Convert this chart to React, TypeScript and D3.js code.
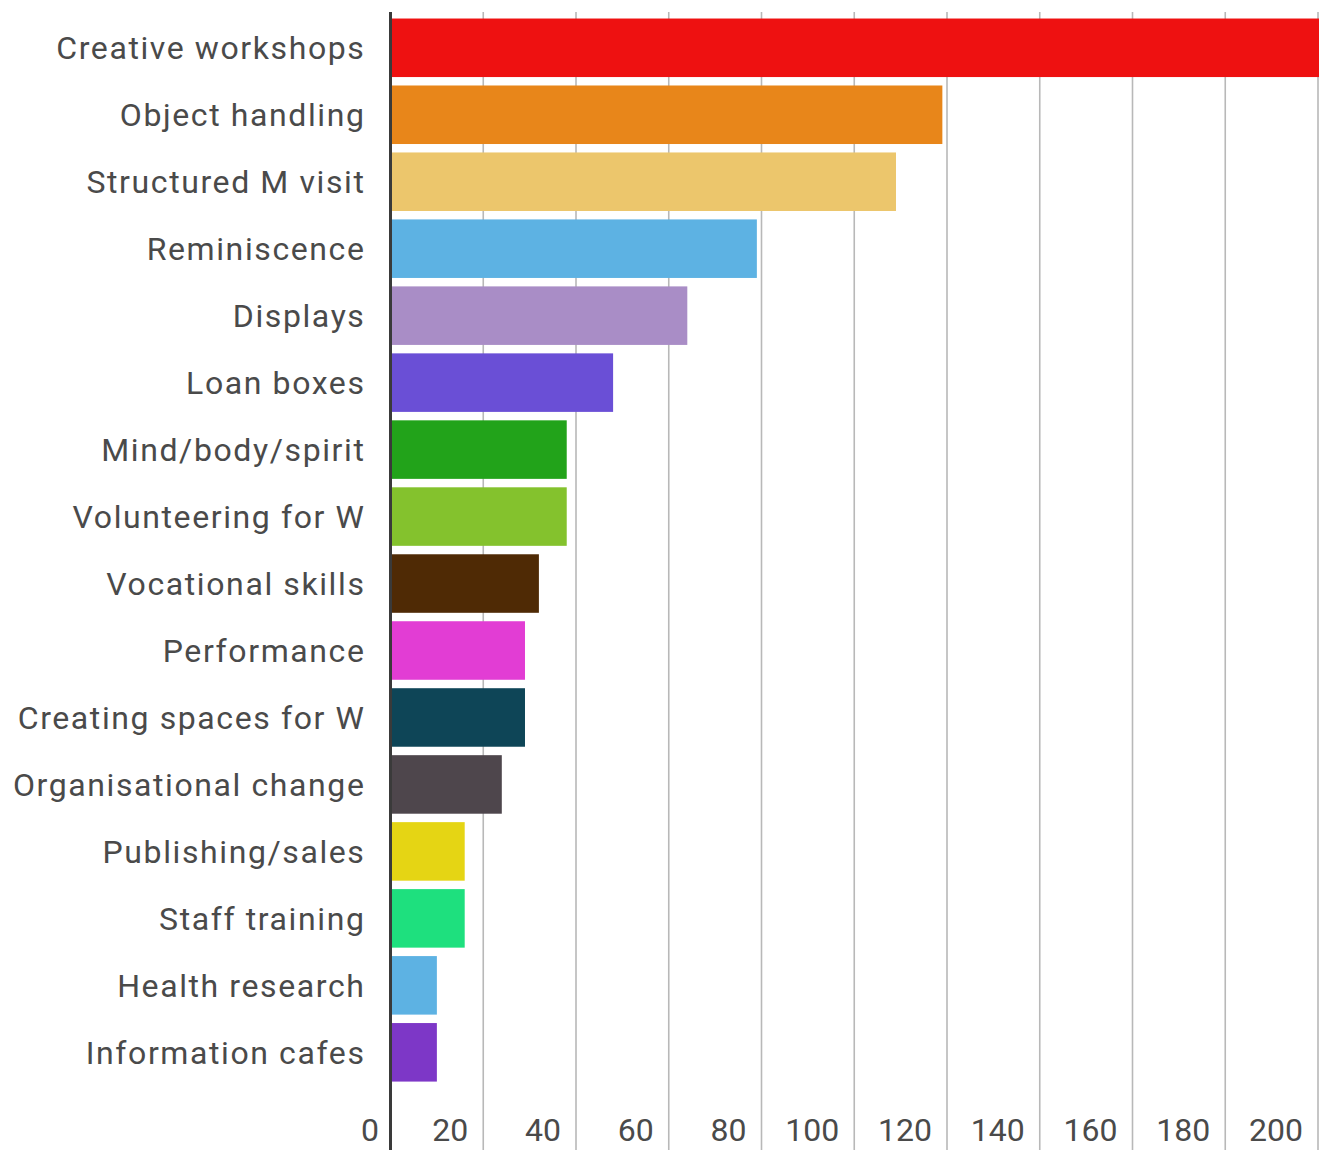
import React from "react";
import * as d3 from "d3";

const categories = [
  "Creative workshops",
  "Object handling",
  "Structured M visit",
  "Reminiscence",
  "Displays",
  "Loan boxes",
  "Mind/body/spirit",
  "Volunteering for W",
  "Vocational skills",
  "Performance",
  "Creating spaces for W",
  "Organisational change",
  "Publishing/sales",
  "Staff training",
  "Health research",
  "Information cafes",
];

const values = [215, 119, 109, 79, 64, 48, 38, 38, 32, 29, 29, 24, 16, 16, 10, 10];

const colors = [
  "#ee1111",
  "#e8861a",
  "#ecc66c",
  "#5db2e3",
  "#a98dc6",
  "#6a4fd6",
  "#22a31a",
  "#84c22d",
  "#4f2a05",
  "#e23dd4",
  "#0e4557",
  "#4e464c",
  "#e5d514",
  "#1ee07e",
  "#5db2e3",
  "#7d37c7",
];

const tickValues = [0, 20, 40, 60, 80, 100, 120, 140, 160, 180, 200];

const W = 1319;
const H = 1150;

export default function App() {
  const x = d3.scaleLinear().domain([0, 200]).range([390.5, 1318]);
  const y = d3
    .scaleBand<string>()
    .domain(categories)
    .range([14.3, 1085.8])
    .paddingInner(0.126)
    .paddingOuter(0.063);

  const font = "Roboto, 'Noto Sans', sans-serif";

  return (
    <svg
      width={W}
      height={H}
      style={{ position: "absolute", left: 0, top: 0, background: "#fff" }}
      fontFamily={font}
    >
      <defs>
        <clipPath id="plot">
          <rect x={390} y={0} width={W - 390} height={H} />
        </clipPath>
      </defs>
      {tickValues.slice(1).map((t) => (
        <line
          key={"g" + t}
          x1={x(t)}
          x2={x(t)}
          y1={12}
          y2={H}
          stroke="#b8b8b8"
          strokeWidth={1.6}
        />
      ))}
      <g clipPath="url(#plot)">
        {categories.map((c, i) => (
          <rect
            key={c}
            x={x(0)}
            y={y(c)}
            width={x(values[i]) - x(0)}
            height={y.bandwidth()}
            fill={colors[i]}
          />
        ))}
      </g>
      <line x1={x(0)} x2={x(0)} y1={12} y2={H} stroke="#3a3a3a" strokeWidth={3} />
      {categories.map((c) => (
        <text
          key={"l" + c}
          x={365.5}
          y={(y(c) as number) + y.bandwidth() / 2 + 11.5}
          textAnchor="end"
          fontSize={32}
          letterSpacing={1.6}
          fill="#4a4a4a"
        >
          {c}
        </text>
      ))}
      {tickValues.map((t) => (
        <text
          key={"t" + t}
          x={x(t) - (t === 0 ? 11.5 : 15)}
          y={1141}
          textAnchor="end"
          fontSize={32}
          fill="#4a4a4a"
        >
          {t}
        </text>
      ))}
    </svg>
  );
}
